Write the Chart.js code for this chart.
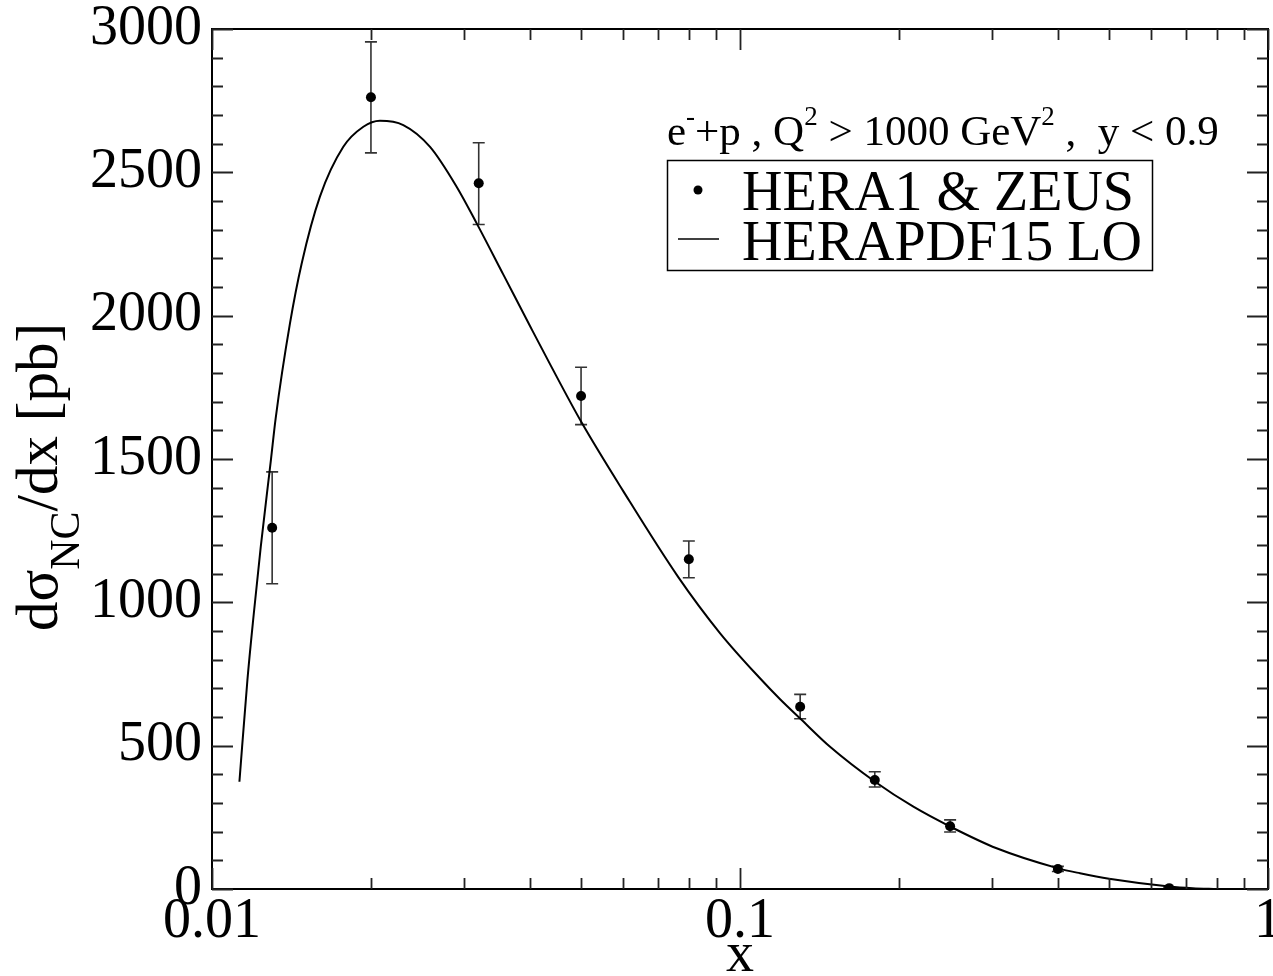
<!DOCTYPE html>
<html><head><meta charset="utf-8">
<script src="https://cdn.jsdelivr.net/npm/chart.js@4.4.0/dist/chart.umd.min.js"></script>
<style>html,body{margin:0;padding:0;background:#fff}#wrap{width:1273px;height:976px;position:relative}</style>
</head><body><div id="wrap"><canvas id="c" width="1273" height="976"></canvas></div>
<script>
// ---- data ----
const seriesNames = ['HERA1 & ZEUS', 'HERAPDF15 LO'];
const xData = [0.013, 0.02, 0.032, 0.05, 0.08, 0.13, 0.18, 0.25, 0.4, 0.65];
const yData = [1260, 2762, 2462, 1720, 1150, 636, 380, 219, 70, 3];
const yErrHigh = [1455, 2955, 2603, 1820, 1214, 679, 409, 241, 79, 6];
const yErrLow = [1065, 2568, 2318, 1620, 1086, 594, 356, 199, 61, 1];
const curveX = [0.01127, 0.01167, 0.012, 0.01237, 0.01293, 0.0132, 0.01405, 0.01479, 0.01601, 0.01773, 0.01935, 0.0208, 0.02303, 0.02588, 0.02906, 0.03172, 0.03561, 0.04002, 0.04367, 0.0501, 0.0601, 0.0764, 0.0917, 0.1091, 0.1191, 0.1303, 0.1481, 0.1802, 0.213, 0.2506, 0.3062, 0.4007, 0.4405, 0.5, 0.65, 0.72, 0.8];
const curveY = [374, 729, 961, 1194, 1497, 1642, 1973, 2183, 2415, 2589, 2659, 2680, 2665, 2589, 2450, 2322, 2144, 1964, 1831, 1628, 1388, 1088, 892, 735, 662, 593, 496, 374, 287, 217, 142, 72, 55, 36, 9, 3, 0];
const xTickValues = [0.01, 0.1, 1];
const xTickLabels = ['0.01', '0.1', '1'];
const yTickStep = 500;
const yMin = 0, yMax = 3000;
const xTitle = 'x';
const yTitleParts = [['dσ', 0], ['NC', 1], ['/dx [pb]', 0]];
const annotationParts = [['e', 0], ['-', 1], ['+p , Q', 0], ['2', 1], [' > 1000 GeV', 0], ['2', 1], [' ,  y < 0.9', 0]];

const FONT = '"Liberation Serif", "Times New Roman", serif';

const decor = {
  id: 'decor',
  beforeDatasetsDraw(chart) {
    const {ctx, scales: {x, y}} = chart;
    ctx.save();
    ctx.strokeStyle = '#333';
    ctx.lineWidth = 1.6;
    for (let i = 0; i < xData.length; i++) {
      const px = x.getPixelForValue(xData[i]);
      const ph = y.getPixelForValue(yErrHigh[i]);
      const pl = y.getPixelForValue(yErrLow[i]);
      ctx.beginPath();
      ctx.moveTo(px, ph); ctx.lineTo(px, pl);
      ctx.moveTo(px - 6, ph); ctx.lineTo(px + 6, ph);
      ctx.moveTo(px - 6, pl); ctx.lineTo(px + 6, pl);
      ctx.stroke();
    }
    ctx.restore();
  },
  afterDraw(chart) {
    const {ctx, chartArea: a, scales: {x, y}} = chart;
    ctx.save();
    ctx.strokeStyle = '#000';
    ctx.lineWidth = 2;
    ctx.strokeRect(a.left, a.top, a.right - a.left, a.bottom - a.top);
    ctx.lineWidth = 1.8;
    ctx.strokeStyle = '#222';
    ctx.beginPath();
    for (let v = yMin; v <= yMax; v += 100) {
      const py = Math.round(y.getPixelForValue(v)) + 0.5;
      const len = v % yTickStep === 0 ? 21 : 11;
      ctx.moveTo(a.left, py); ctx.lineTo(a.left + len, py);
      ctx.moveTo(a.right, py); ctx.lineTo(a.right - len, py);
    }
    for (let d = 0.01; d < 1.5; d *= 10) {
      for (let m = 1; m <= 9; m++) {
        const v = m * d;
        if (v > 1.0001) break;
        const px = Math.round(x.getPixelForValue(v)) + 0.5;
        const len = m === 1 ? 21 : 11;
        ctx.moveTo(px, a.bottom); ctx.lineTo(px, a.bottom - len);
        ctx.moveTo(px, a.top); ctx.lineTo(px, a.top + len);
      }
    }
    ctx.stroke();

    // legend
    ctx.strokeStyle = '#000';
    ctx.lineWidth = 1.5;
    ctx.strokeRect(667.5, 160.5, 485, 110);
    ctx.fillStyle = '#000';
    ctx.beginPath(); ctx.arc(698, 190, 4.5, 0, Math.PI * 2); ctx.fill();
    ctx.beginPath(); ctx.moveTo(678, 239); ctx.lineTo(719, 239); ctx.stroke();
    ctx.font = '56px ' + FONT;
    ctx.textBaseline = 'alphabetic';
    ctx.textAlign = 'left';
    ctx.fillText(chart.data.datasets[0].label, 742, 210);
    ctx.fillText(chart.data.datasets[1].label, 742, 260);

    // annotation
    let ax = 667;
    const ab = 145;
    for (const [t, sup] of annotationParts) {
      ctx.font = (sup ? '27px ' : '43px ') + FONT;
      ctx.fillText(t, ax, sup ? ab - 20 : ab);
      ax += ctx.measureText(t).width;
    }

    // y title
    ctx.save();
    const widths = yTitleParts.map(([t, sub]) => { ctx.font = (sub ? '42px ' : '59px ') + FONT; return ctx.measureText(t).width; });
    const total = widths.reduce((s, w) => s + w, 0);
    ctx.translate(57, 477 + total / 2);
    ctx.rotate(-Math.PI / 2);
    let tx = 0;
    yTitleParts.forEach(([t, sub], i) => {
      ctx.font = (sub ? '42px ' : '59px ') + FONT;
      ctx.fillText(t, tx, sub ? 22 : 0);
      tx += widths[i];
    });
    ctx.restore();
    ctx.restore();
  }
};

new Chart(document.getElementById('c'), {
  type: 'line',
  data: {
    datasets: [
      {
        label: seriesNames[0],
        type: 'scatter',
        data: xData.map((v, i) => ({x: v, y: yData[i]})),
        pointRadius: 5,
        pointBackgroundColor: '#000',
        pointBorderWidth: 0,
        showLine: false
      },
      {
        label: seriesNames[1],
        data: curveX.map((v, i) => ({x: v, y: curveY[i]})),
        borderColor: '#000',
        borderWidth: 2,
        pointRadius: 0,
        fill: false,
        cubicInterpolationMode: 'monotone'
      }
    ]
  },
  options: {
    responsive: false,
    animation: false,
    devicePixelRatio: 1,
    layout: {padding: {left: 0, right: 3, top: 29, bottom: 0}},
    plugins: {legend: {display: false}, tooltip: {enabled: false}},
    scales: {
      x: {
        type: 'logarithmic',
        position: 'bottom',
        min: 0.01, max: 1,
        grid: {display: false, drawTicks: false},
        border: {display: false},
        ticks: {
          font: {family: FONT, size: 56},
          color: '#000',
          padding: 0,
          autoSkip: false,
          maxRotation: 0,
          callback: (v) => { const i = xTickValues.findIndex(t => Math.abs(t - v) < 1e-9); return i >= 0 ? xTickLabels[i] : ''; }
        },
        afterBuildTicks: (s) => { s.ticks = xTickValues.map(v => ({value: v})); },
        afterFit: (s) => { s.height = 87; s.paddingLeft = 0; s.paddingRight = 0; },
        title: {display: true, text: xTitle, color: '#000', font: {family: FONT, size: 56, lineHeight: 0.72}, padding: 0}
      },
      y: {
        type: 'linear',
        min: yMin, max: yMax,
        grid: {display: false, drawTicks: false},
        border: {display: false},
        ticks: {stepSize: yTickStep, font: {family: FONT, size: 56}, color: '#000', padding: 10, callback: (v) => String(v)},
        afterFit: (s) => { s.width = 212; s.paddingTop = 0; s.paddingBottom = 0; }
      }
    }
  },
  plugins: [decor]
});
</script>
</body></html>
